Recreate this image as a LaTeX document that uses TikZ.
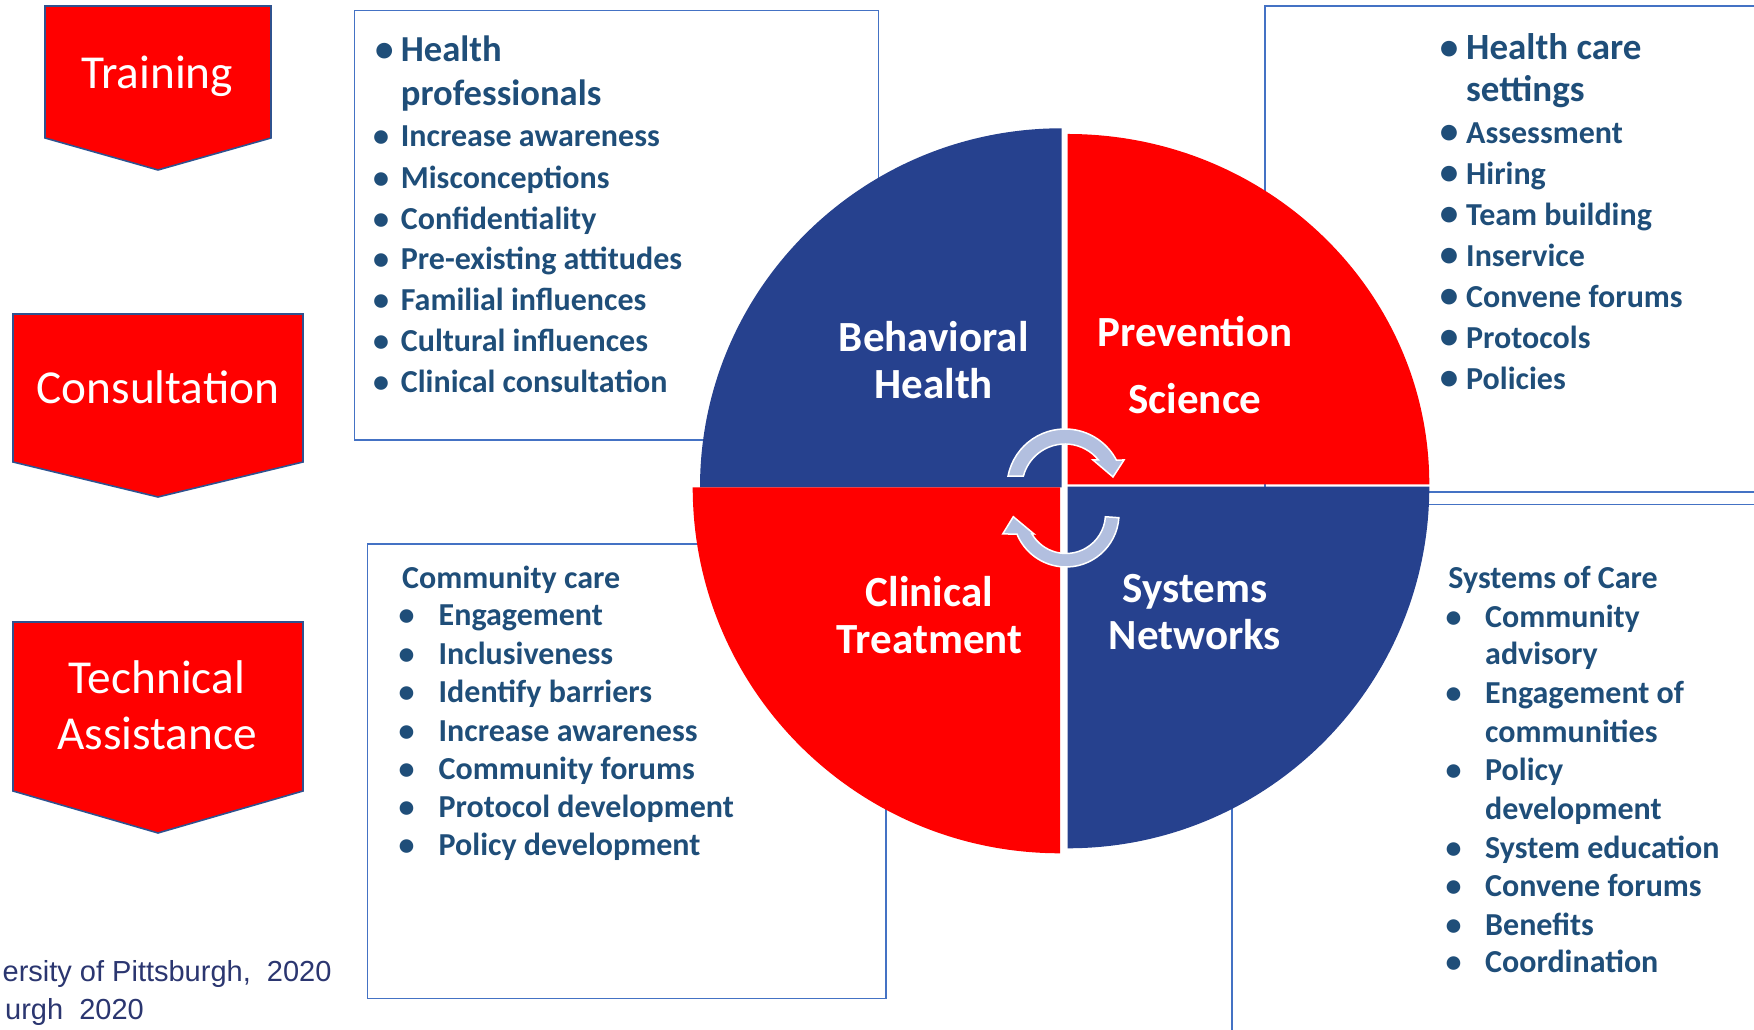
\documentclass[tikz,border=0pt]{standalone}
\usepackage{fontspec}
\setmainfont{Carlito}
\newfontfamily\arialf{Liberation Sans}
\definecolor{cred}{HTML}{FF0000}
\definecolor{qblue}{HTML}{26418E}
\definecolor{chevb}{HTML}{2F528F}
\definecolor{boxb}{HTML}{4472C4}
\definecolor{tblue}{HTML}{1F4E79}
\definecolor{arrfill}{HTML}{B2BFDF}
\definecolor{foot}{HTML}{2B3670}
\newcommand\fsz[1]{\fontsize{#1}{#1}\selectfont}
\tikzset{
  chev/.style={fill=cred, draw=chevb, line width=1.6pt, line join=miter},
  chevtxt/.style={anchor=base, text=white, font=\fsz{47.3}, inner sep=0pt},
  tbox/.style={draw=boxb, line width=1.4pt},
  quadtxt/.style={anchor=base, text=white, font=\bfseries\fsz{43}, inner sep=0pt},
  itm/.style={anchor=base west, text=tblue, font=\bfseries\fsz{32}, inner sep=0pt},
  headA/.style={anchor=base west, text=tblue, font=\bfseries\fsz{36.6}, inner sep=0pt},
  headB/.style={anchor=base west, text=tblue, font=\bfseries\fsz{37}, inner sep=0pt},
  bulA/.style={anchor=base, text=tblue, font=\bfseries\fsz{32}, inner sep=0pt},
  bulH/.style={anchor=base, text=tblue, font=\bfseries\fsz{37}, inner sep=0pt},
  cyc/.style={fill=arrfill, draw=white, line width=1.5pt, line join=miter},
  foottxt/.style={anchor=base east, text=foot, font=\arialf\fsz{29}, inner sep=0pt},
}
\begin{document}
\begin{tikzpicture}[x=1pt,y=1pt]
\useasboundingbox (0,0) rectangle (1754,1030);
\fill[white] (0,0) rectangle (1754,1030);

% chevrons
\draw[chev] (45,1024) -- (271,1024) -- (271,892) -- (158,860) -- (45,892) -- cycle;
\draw[chev] (13,716) -- (303,716) -- (303,568) -- (158,533) -- (13,568) -- cycle;
\draw[chev] (13,408) -- (303,408) -- (303,239) -- (158,197) -- (13,239) -- cycle;
\node[chevtxt] (tr) at (157,941.7) {Training};
\node[chevtxt] (co) at (158,626.7) {Consultation};
\node[chevtxt] (ta1) at (157,336.7) {Technical};
\node[chevtxt] (ta2) at (157,280) {Assistance};

% text boxes
\draw[tbox] (354.3,1019.3) rectangle (878.2,590);
\draw[tbox] (1754,1024) -- (1265,1024) -- (1265,538) -- (1754,538);
\draw[tbox] (367.6,486) rectangle (885.8,31.7);
\draw[tbox] (1754,525.4) -- (1231.9,525.4) -- (1231.9,-2);

% box 1
\node[bulH] (b1h) at (384.3,968.3) {•};
\node[headA] (h1a) at (400.7,968.3) {Health};
\node[headA] (h1b) at (400.7,924.5) {professionals};
\foreach \y/\t [count=\i] in {883.3/Increase awareness, 841.7/Misconceptions, 800.7/Confidentiality, 760.7/Pre-existing attitudes, 719.3/Familial influences, 678.3/Cultural influences, 637.3/Clinical consultation}{
  \node[bulA] (b1\i) at (381,\y) {•};
  \node[itm] (t1\i) at (400.7,\y) {\t};
}

% box 2
\node[bulH] (b2h) at (1449,970.7) {•};
\node[headB] (h2a) at (1466,970.7) {Health care};
\node[headB] (h2b) at (1466,928) {settings};
\foreach \y/\t [count=\i] in {886/Assessment, 845/Hiring, 804/Team building, 763.3/Inservice, 722.7/Convene forums, 681.7/Protocols, 640.7/Policies}{
  \node[bulH] (b2\i) at (1449,\y) {•};
  \node[itm] (t2\i) at (1466,\y) {\t};
}

% box 3
\node[itm] (h3) at (402,441.7) {Community care};
\foreach \y/\t [count=\i] in {404/Engagement, 365/Inclusiveness, 327.3/Identify barriers, 288.3/Increase awareness, 250.7/Community forums, 212.7/Protocol development, 174/Policy development}{
  \node[bulA] (b3\i) at (406.5,\y) {•};
  \node[itm] (t3\i) at (438.5,\y) {\t};
}

% box 4
\node[itm] (h4) at (1448.2,441.3) {Systems of Care};
\foreach \y/\t [count=\i] in {402.7/Community, 365.9/advisory, 326.2/Engagement of, 287.6/communities, 249/Policy, 210.5/development, 171.9/System education, 133.3/Convene forums, 94.7/Benefits, 57.2/Coordination}{
  \node[itm] (t4\i) at (1485,\y) {\t};
}
\foreach \y [count=\i] in {402.7, 326.2, 249, 171.9, 133.3, 94.7, 57.2}{
  \node[bulA] (b4\i) at (1453.6,\y) {•};
}

% quadrants
\fill[qblue] (1061.7,542.7) -- ++(-361.7,0) arc[start angle=180, end angle=90, x radius=361.7, y radius=359] -- cycle;
\fill[cred] (1067.7,545.7) -- ++(0,350.3) arc[start angle=90, end angle=0, x radius=361.6, y radius=350.3] -- cycle;
\fill[cred] (1060,542.7) -- ++(-367.3,0) arc[start angle=180, end angle=270, x radius=367.3, y radius=366] -- cycle;
\fill[qblue] (1067.7,543.3) -- ++(361.6,0) arc[start angle=0, end angle=-90, radius=361.6] -- cycle;

\node[quadtxt] (bh1) at (933.7,678.3) {Behavioral};
\node[quadtxt] (bh2) at (933.7,631.5) {Health};
\node[quadtxt] (ps1) at (1195,683.3) {Prevention};
\node[quadtxt] (ps2) at (1195,616) {Science};
\node[quadtxt] (ct1) at (929.5,423) {Clinical};
\node[quadtxt] (ct2) at (929.5,376) {Treatment};
\node[quadtxt] (sn1) at (1195,427) {Systems};
\node[quadtxt] (sn2) at (1195,380.5) {Networks};

% circular arrows
\coordinate (ac1) at (1065,543);
\draw[cyc] ([shift={(169.1:58)}]ac1) arc[start angle=169.1, end angle=27.7, radius=58]
  -- (1124,570) -- (1113,553) -- (1093,570)
  -- ([shift={(38.9:43)}]ac1) arc[start angle=38.9, end angle=165.2, radius=43] -- cycle;
\coordinate (ac2) at (1066,516);
\draw[cyc] ([shift={(-4:53)}]ac2) arc[start angle=-4, end angle=-157.8, radius=53]
  -- (1002.7,496) -- (1013.3,513.3) -- (1034,496)
  -- ([shift={(-149.6:39.5)}]ac2) arc[start angle=-149.6, end angle=-4, radius=39.5] -- cycle;

% footer
\node[foottxt] (f1) at (331.7,48.3) {ersity of Pittsburgh,~~2020};
\node[foottxt] (f2) at (144,10) {urgh~~2020};
\end{tikzpicture}
\end{document}
